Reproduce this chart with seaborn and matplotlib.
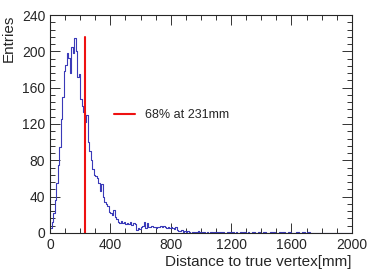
import numpy as np
import pandas as pd
import seaborn as sns
import matplotlib.pyplot as plt
from matplotlib.ticker import MultipleLocator

# histogram contents, 10 mm bins starting at 0
counts_head = [5, 12, 22, 36, 55, 75, 95, 125, 150, 178,
               185, 198, 193, 176, 205, 198, 215, 200, 172, 175,
               148, 140, 133, 122, 130, 100, 90, 80, 70, 64,
               63, 60, 55, 46, 54, 40, 34, 32, 30, 23,
               22, 20, 25, 17, 15, 12, 11, 13, 11, 12,
               10, 11, 10, 12, 9, 11, 10, 3, 5, 4,
               6, 8, 12, 5, 11, 7, 6, 8, 6, 7,
               5, 6, 7, 8, 6, 8, 7, 5, 6, 5,
               6, 5, 4, 6, 3, 2, 2, 3, 1, 2]
counts_tail = [1, 2, 1, 0, 1, 1, 0, 1, 2, 1,
               0, 1, 1, 0, 1, 0, 1, 1, 0, 1,
               1, 0, 1, 1, 1, 0, 0, 1, 1, 0,
               1, 1, 0, 1, 0, 0, 1, 0, 1, 1,
               0, 1, 0, 0, 1, 1, 0, 0, 1, 0,
               0, 1, 1, 0, 0, 0, 1, 1, 1, 0,
               0, 0, 1, 0, 1, 1, 0, 0, 1, 1,
               0, 0, 0, 1, 1, 0, 0, 1, 1, 0,
               1, 1, 0, 0, 0]
counts = counts_head + counts_tail
bin_width = 10
centers = np.arange(len(counts)) * bin_width + bin_width / 2

r68 = 231
r68_height = 216
legend_label = "68% at 231mm"

df = pd.DataFrame({"dist": centers, "n": counts})

sns.set_style("ticks")
plt.rcParams['font.family'] = ['Liberation Sans', 'DejaVu Sans']

fig = plt.figure(figsize=(3.74, 2.74), dpi=100)
ax = fig.add_axes([0.1337, 0.150, 0.807, 0.795])

sns.histplot(data=df, x="dist", weights="n", binwidth=bin_width, binrange=(0, 2000),
             element="step", fill=False, color="#3a3ab8", linewidth=0.8, ax=ax)
ax.plot([r68, r68], [0, r68_height], color="#ee1111", lw=1.5, label=legend_label)

ax.set_xlim(0, 2000)
ax.set_ylim(0, 240)
ax.xaxis.set_major_locator(MultipleLocator(400))
ax.xaxis.set_minor_locator(MultipleLocator(100))
ax.yaxis.set_major_locator(MultipleLocator(40))
ax.yaxis.set_minor_locator(MultipleLocator(8))
ax.tick_params(which="both", direction="in", top=True, right=True, labelsize=10,
               width=0.7, color="#333333")
ax.tick_params(which="major", length=7)
ax.tick_params(which="minor", length=3.5)
for s in ax.spines.values():
    s.set_linewidth(0.8)

ax.set_xlabel("Distance to true vertex[mm]", fontsize=11, ha="right", x=1.0, labelpad=2)
ax.set_ylabel("Entries", fontsize=11, ha="right", y=1.0, labelpad=4)

ax.legend(loc="center left", bbox_to_anchor=(0.175, 0.54), frameon=False,
          fontsize=9, handlelength=1.7, handletextpad=0.8)

fig.savefig("out.png", dpi=100)
